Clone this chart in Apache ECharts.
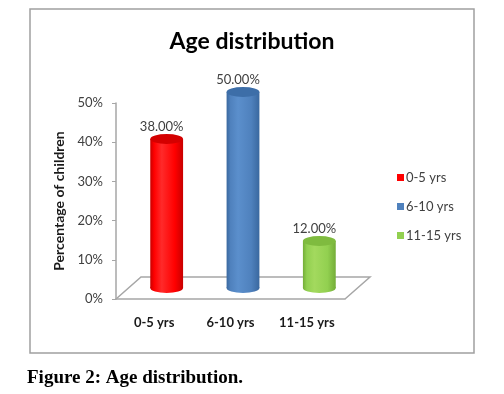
<!DOCTYPE html>
<html>
<head>
<meta charset="utf-8">
<script src="https://cdn.jsdelivr.net/npm/echarts@6/dist/echarts.min.js"></script>
<style>
  html, body { margin: 0; padding: 0; background: #fff; }
  #chart { width: 504px; height: 394px; }
</style>
</head>
<body>
<div id="chart"></div>
<script>
// data
const categories = ['0-5 yrs', '6-10 yrs', '11-15 yrs'];
const percentages = [38, 50, 12];
const barColors = [
  ['#ff2a2a', '#ff0000', '#c80000', '#d40000'],
  ['#5b8fcc', '#4f81bd', '#3a689f', '#3d6ea8'],
  ['#a3d95e', '#92d050', '#74ad38', '#7fbb3f']
];
const yTicks = [0, 10, 20, 30, 40, 50];

const FONT = 'Lato, "Open Sans", sans-serif';
const depthX = 25, depthY = -22;

const chart = echarts.init(document.getElementById('chart'));

function cylinder(params, api) {
  const idx = api.value(0);
  const top = api.coord([idx, api.value(1)]);
  const base = api.coord([idx, 0]);
  const band = api.size([1, 0])[0];
  const rx = band * 0.215;
  const ry = 5;
  const cx = base[0] + depthX / 2;
  const topY = top[1] + depthY / 2;
  const baseY = base[1] + depthY / 2;
  const c = barColors[idx];
  const body = new echarts.graphic.LinearGradient(0, 0, 1, 0, [
    { offset: 0, color: c[2] },
    { offset: 0.12, color: c[1] },
    { offset: 0.35, color: c[0] },
    { offset: 0.75, color: c[1] },
    { offset: 1, color: c[2] }
  ]);
  return {
    type: 'group',
    children: [
      {
        type: 'circle', x: cx, y: baseY, scaleY: ry / rx,
        shape: { cx: 0, cy: 0, r: rx },
        style: { fill: body }
      },
      {
        type: 'rect',
        shape: { x: cx - rx, y: topY, width: rx * 2, height: baseY - topY },
        style: { fill: body }
      },
      {
        type: 'circle', x: cx, y: topY, scaleY: ry / rx,
        shape: { cx: 0, cy: 0, r: rx },
        style: { fill: c[3] }
      },
      {
        type: 'text',
        style: {
          text: api.value(1).toFixed(2) + '%',
          x: cx - 5, y: topY - ry - 1,
          textAlign: 'center', textVerticalAlign: 'bottom',
          fill: '#404040', font: '13px ' + FONT
        }
      }
    ]
  };
}

function floor(params, api) {
  const band = api.size([1, 0])[0];
  const left = api.coord([0, 0]);
  const right = api.coord([categories.length - 1, 0]);
  const x0 = left[0] - band / 2, x1 = right[0] + band / 2, y = left[1];
  return {
    type: 'polyline',
    shape: { points: [[x0, y], [x0 + depthX, y + depthY], [x1 + depthX, y + depthY], [x1, y]] },
    style: { stroke: '#a6a6a6', lineWidth: 1.5, fill: null }
  };
}

const series = [{
  type: 'custom',
  name: 'floor',
  renderItem: floor,
  data: [[0, 0]],
  silent: true,
  z: 1
}];
categories.forEach((cat, i) => {
  series.push({
    type: 'custom',
    name: cat,
    renderItem: cylinder,
    itemStyle: { color: barColors[i][1] },
    data: [[i, percentages[i]]],
    z: 3
  });
});

chart.setOption({
  animation: false,
  title: [
    {
      text: 'Age distribution',
      left: 'center', top: 25,
      textStyle: { fontFamily: FONT, fontSize: 23, fontWeight: 'bold', color: '#000' }
    },
    {
      text: 'Figure 2: Age distribution.',
      left: 22, top: 364,
      textStyle: { fontFamily: '"Liberation Serif", serif', fontSize: 19, fontWeight: 'bold', color: '#000' }
    }
  ],
  graphic: [{
    type: 'rect',
    shape: { x: 30, y: 9, width: 444, height: 344 },
    style: { fill: null, stroke: '#a0a0a0', lineWidth: 1.5 },
    z: -1
  }],
  legend: {
    data: categories,
    orient: 'vertical',
    left: 392, top: 166,
    icon: 'rect', itemWidth: 7, itemHeight: 7, itemGap: 16,
    textStyle: { fontFamily: FONT, fontSize: 13, color: '#404040', padding: [0, 0, 0, -3] }
  },
  grid: { left: 116, right: 159, top: 103, bottom: 95 },
  xAxis: {
    type: 'category',
    data: categories,
    axisLine: { lineStyle: { color: '#a6a6a6', width: 1.5 } },
    axisTick: { length: 5, lineStyle: { color: '#808080' } },
    axisLabel: { margin: 17, fontFamily: FONT, fontSize: 13, fontWeight: 'bold', color: '#1a1a1a' }
  },
  yAxis: {
    type: 'value',
    min: yTicks[0], max: yTicks[yTicks.length - 1], interval: 10,
    name: 'Percentage of children',
    nameLocation: 'middle', nameGap: 50,
    nameTextStyle: { fontFamily: FONT, fontSize: 14, fontWeight: 'bold', color: '#1a1a1a' },
    axisLine: { show: true, lineStyle: { color: '#a6a6a6', width: 1.5 } },
    axisTick: { show: true, length: 4, lineStyle: { color: '#a6a6a6' } },
    splitLine: { show: false },
    axisLabel: { margin: 13, formatter: '{value}%', fontFamily: FONT, fontSize: 13, color: '#404040' }
  },
  series: series
});
</script>
</body>
</html>
